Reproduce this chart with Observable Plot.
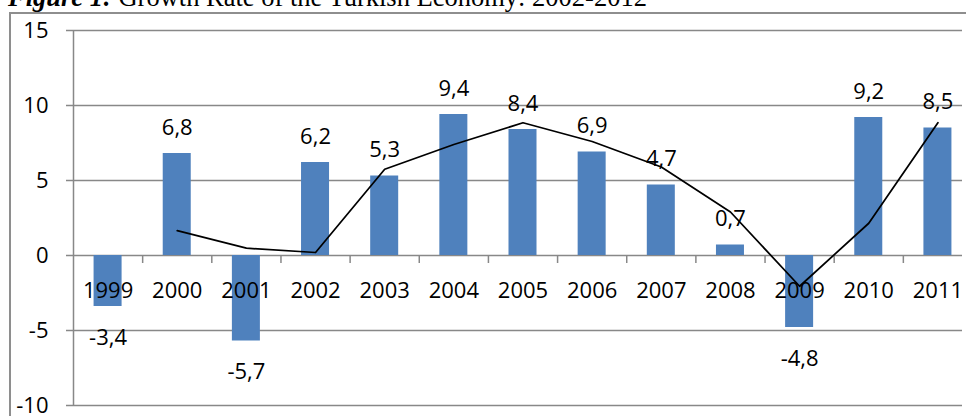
<!DOCTYPE html>
<html>
<head>
<meta charset="utf-8">
<script src="https://cdn.jsdelivr.net/npm/d3@7"></script>
<script src="https://cdn.jsdelivr.net/npm/@observablehq/plot@0.6"></script>
<style>
  html, body { margin: 0; padding: 0; background: #fff; overflow: hidden; width: 966px; height: 416px; }
  #wrap { position: relative; width: 966px; height: 416px; }
  #title { position: absolute; left: 8px; top: -16px; font-family: "Liberation Serif", "Times New Roman", serif; font-size: 26.5px; line-height: 1; white-space: nowrap; color: #000; }
  #title b { font-style: italic; }
  #border { position: absolute; left: 9px; top: 12px; width: 1000px; height: 1000px; border: 2px solid #8e8e8e; box-sizing: border-box; }
  #chart { position: absolute; left: 0; top: 0; }
</style>
</head>
<body>
<div id="wrap">
  <div id="title"><b>Figure 1:</b> Growth Rate of the Turkish Economy: 2002-2012</div>
  <div id="border"></div>
  <div id="chart"></div>
</div>
<script>
const years = ["1999","2000","2001","2002","2003","2004","2005","2006","2007","2008","2009","2010","2011"];
const growth = [-3.4, 6.8, -5.7, 6.2, 5.3, 9.4, 8.4, 6.9, 4.7, 0.7, -4.8, 9.2, 8.5];
const trend = [null, 1.66, 0.49, 0.2, 5.75, 7.4, 8.85, 7.6, 5.9, 2.9, -2.05, 2.15, 8.85];
const yTicks = [-10, -5, 0, 5, 10, 15];

const rows = years.map((year, i) => ({i, year, value: growth[i], trend: trend[i]}));
const fmt = v => String(v).replace(".", ",");

const chart = Plot.plot({
  width: 966,
  height: 416,
  marginLeft: 73,
  marginRight: 4,
  marginTop: 30,
  marginBottom: 11,
  x: {type: "linear", domain: [-0.5, 12.5], range: [73, 972], axis: null},
  y: {domain: [-10, 15], axis: null},
  style: {fontFamily: "'Open Sans', sans-serif", fontSize: "22px", background: "transparent", overflow: "visible", color: "#000"},
  marks: [
    Plot.ruleY(yTicks, {stroke: "#888", strokeWidth: 1.5, insetLeft: -7}),
    Plot.rectY(rows, {x1: d => d.i - 0.2025, x2: d => d.i + 0.2025, y1: 0, y2: "value", fill: "#4F81BD"}),
    Plot.ruleX([-0.5], {y1: -10, y2: 15, stroke: "#888", strokeWidth: 1.5}),
    Plot.ruleX(rows, {x: d => d.i + 0.5, y1: 0, y2: 0, insetBottom: -8, stroke: "#888", strokeWidth: 1.5}),
    Plot.line(rows.filter(d => d.trend != null), {x: "i", y: "trend", stroke: "#000", strokeWidth: 1.75}),
    Plot.text(rows.filter(d => d.value > 0), {x: "i", y: "value", text: d => fmt(d.value), dy: -26, fill: "#000"}),
    Plot.text(rows.filter(d => d.value < 0), {x: "i", y: "value", text: d => fmt(d.value), dy: 31, fill: "#000"}),
    Plot.text(rows, {x: "i", y: 0, text: "year", dy: 35, fill: "#000"}),
    Plot.text(yTicks, {x: -0.5, y: d => d, text: d => String(d), textAnchor: "end", dx: -25, fill: "#000"})
  ]
});
document.getElementById("chart").appendChild(chart);
</script>
</body>
</html>
